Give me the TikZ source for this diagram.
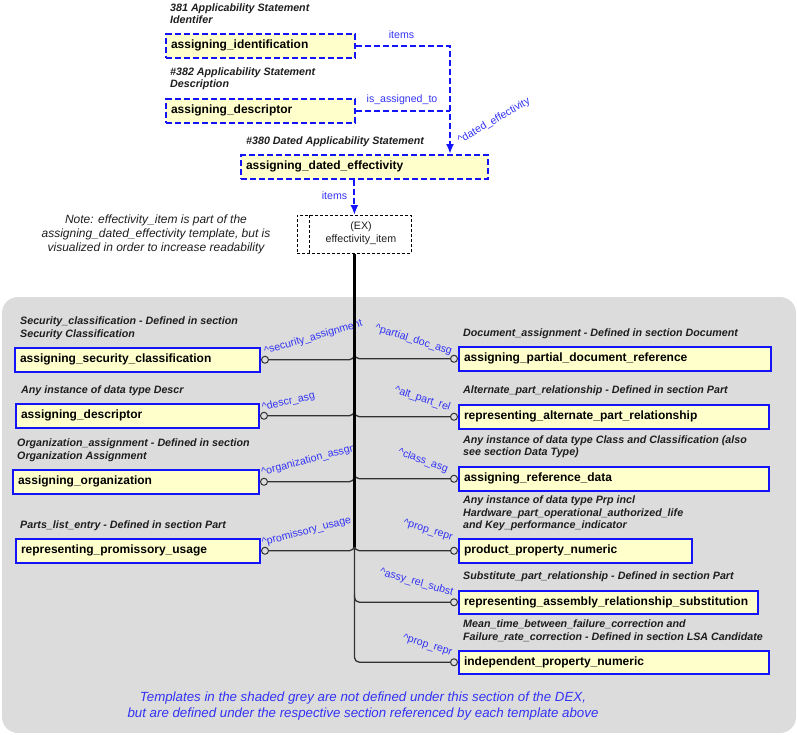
\documentclass[tikz,border=0pt]{standalone}
\usepackage{fontspec}
\setmainfont{Liberation Sans}
\usetikzlibrary{arrows.meta,calc}
\definecolor{yel}{RGB}{255,255,204}
\definecolor{bbd}{RGB}{20,20,250}
\definecolor{btxt}{RGB}{50,50,245}
\definecolor{gbg}{RGB}{220,220,220}
\definecolor{brc}{RGB}{50,50,50}
\definecolor{dtxt}{RGB}{30,30,30}
\begin{document}
\begin{tikzpicture}[x=1pt,y=-1pt,
 ybox/.style={draw=bbd, fill=yel, line width=2pt, inner xsep=5pt, inner ysep=0pt,
   text width=#1, align=left, minimum height=23.5pt, anchor=north west,
   font=\fontsize{12}{14}\selectfont\bfseries, text height=9pt, text depth=3pt},
 dbox/.style={ybox=#1, dash pattern=on 6pt off 3pt},
 desc/.style={font=\fontsize{10.7}{12.7}\selectfont\bfseries\itshape, text=dtxt, align=left, anchor=west, inner sep=0pt},
 role/.style={font=\fontsize{10.6}{12}\selectfont, text=btxt, inner sep=0pt},
 ring/.style={circle, draw=brc, fill=gbg, line width=1pt, inner sep=0pt, minimum size=7pt},
 branch/.style={draw=brc, line width=1.3pt, rounded corners=5pt},
 trunk/.style={draw=black, line width=2.2pt},
 bdash/.style={draw=bbd, line width=2pt, dash pattern=on 6pt off 3pt},
 exline/.style={draw=black, line width=0.8pt, dash pattern=on 3pt off 2pt},
]
\useasboundingbox (0,0) rectangle (797,734);
% grey region
\fill[gbg, rounded corners=16pt] (2,297) rectangle (796,733);

% top boxes
\node[desc] (l381) at (170,13.7) {381 Applicability Statement\\Identifer};
\node[dbox=179pt] (ident) at (165,33) {assigning\_identification};
\node[desc] (l382) at (170,78.7) {\#382 Applicability Statement\\Description};
\node[dbox=179pt] (desc1) at (165,98) {assigning\_descriptor};
\node[desc] (l380) at (246,141.7) {\#380 Dated Applicability Statement};
\node[dbox=237pt] (dated) at (240,154) {assigning\_dated\_effectivity};

% EX box
\node[exline, minimum width=114pt, minimum height=38pt, anchor=north west, inner sep=0pt] (ex) at (297,215) {};
\draw[exline] ($(ex.north west)+(12,0)$) -- ($(ex.south west)+(12,0)$);
\node[font=\fontsize{10.7}{12.7}\selectfont, text=dtxt, align=center, inner sep=0pt] (extext) at (361,233.5) {(EX)\\effectivity\_item};

% top connectors
\coordinate (jx) at (450,154);
\draw[bdash,-{Latex[length=10pt,width=8pt]}] (ident.east) -| (jx);
\draw[bdash] (desc1.east) -- (desc1.east -| jx);
\draw[bdash,-{Latex[length=10pt,width=8pt]}] (dated.south -| ex.north) -- (ex.north);
\node[role] (lit1) at (401.5,35) {items};
\node[role] (lasg) at (402,100) {is\_assigned\_to};
\node[role, rotate=30] (lde) at (494,121) {\textasciicircum dated\_effectivity};
\node[role] (lit2) at (334.5,196) {items};

% note
\node[font=\fontsize{12}{14}\selectfont\itshape, text=dtxt, align=center, inner sep=0pt] (note) at (156,234)
 {Note: effectivity\_item is part of the\\assigning\_dated\_effectivity template, but is\\visualized in order to increase readability};

% left boxes
\node[desc] (d1) at (20,328) {Security\_classification - Defined in section\\Security Classification};
\node[ybox=235pt] (secclass) at (14,347) {assigning\_security\_classification};
\node[desc] (d2) at (21,391) {Any instance of data type Descr};
\node[ybox=233pt] (descr) at (15,403) {assigning\_descriptor};
\node[desc] (d3) at (17,449.9) {Organization\_assignment - Defined in section\\Organization Assignment};
\node[ybox=236pt] (org) at (12,469) {assigning\_organization};
\node[desc] (d4) at (20,526) {Parts\_list\_entry - Defined in section Part};
\node[ybox=234pt] (prom) at (15,538) {representing\_promissory\_usage};

% right boxes
\node[desc] (d5) at (463,333.3) {Document\_assignment - Defined in section Document};
\node[ybox=302pt] (pdr) at (458,346) {assigning\_partial\_document\_reference};
\node[desc] (d6) at (463,390.7) {Alternate\_part\_relationship - Defined in section Part};
\node[ybox=300pt] (apr) at (458,404) {representing\_alternate\_part\_relationship};
\node[desc] (d7) at (463,446.8) {Any instance of data type Class and Classification (also\\see section Data Type)};
\node[ybox=300pt] (rd) at (458,466) {assigning\_reference\_data};
\node[desc] (d8) at (463,513.3) {Any instance of data type Prp incl\\Hardware\_part\_operational\_authorized\_life\\and Key\_performance\_indicator};
\node[ybox=223pt] (ppn) at (458,538) {product\_property\_numeric};
\node[desc] (d9) at (463,576.7) {Substitute\_part\_relationship - Defined in section Part};
\node[ybox=289pt] (ars) at (458,589.5) {representing\_assembly\_relationship\_substitution};
\node[desc] (d10) at (463,630.8) {Mean\_time\_between\_failure\_correction and\\Failure\_rate\_correction - Defined in section LSA Candidate};
\node[ybox=300pt] (ipn) at (458,649.5) {independent\_property\_numeric};

% role labels
\node[role, rotate=16] (rl1) at (313.5,337.5) {\textasciicircum security\_assignment};
\node[role, rotate=13] (rl2) at (288.5,402) {\textasciicircum descr\_asg};
\node[role, rotate=15] (rl3) at (308.5,460.5) {\textasciicircum organization\_assgn};
\node[role, rotate=14.5] (rl4) at (306.5,531.5) {\textasciicircum promissory\_usage};
\node[role, rotate=-17] (rl5) at (413.5,340) {\textasciicircum partial\_doc\_asg};
\node[role, rotate=-18] (rl6) at (422.5,399) {\textasciicircum alt\_part\_rel};
\node[role, rotate=-20] (rl7) at (423,461) {\textasciicircum class\_asg};
\node[role, rotate=-17] (rl8) at (428,530.5) {\textasciicircum prop\_repr};
\node[role, rotate=-16] (rl9) at (416.5,582.5) {\textasciicircum assy\_rel\_subst};
\node[role, rotate=-17] (rl10) at (427.5,645.5) {\textasciicircum prop\_repr};

% rings
\node[ring, anchor=west] (r1) at (secclass.east) {};
\node[ring, anchor=west] (r2) at (descr.east) {};
\node[ring, anchor=west] (r3) at (org.east) {};
\node[ring, anchor=west] (r4) at (prom.east) {};
\node[ring, anchor=east] (r5) at (pdr.west) {};
\node[ring, anchor=east] (r6) at (apr.west) {};
\node[ring, anchor=east] (r7) at (rd.west) {};
\node[ring, anchor=east] (r8) at (ppn.west) {};
\node[ring, anchor=east] (r9) at (ars.west) {};
\node[ring, anchor=east] (r10) at (ipn.west) {};

% branches
\foreach \r in {r1,r2,r3,r4}{
  \draw[branch] (\r.east) -- (\r.east -| ex.south) -- ++(0,-8);
}
\foreach \r in {r5,r6,r7,r8,r9}{
  \draw[branch] ($(\r.west -| ex.south)+(0,-8)$) -- (\r.west -| ex.south) -- (\r.west);
}
\draw[branch] ($(ex.south |- r4.east)+(0,-4)$) -- (ex.south |- r10.west) -- (r10.west);
\draw[trunk] (ex.south) -- ($(ex.south |- r4.east)+(0,-4)$);

% footer
\node[font=\fontsize{13.3}{16.6}\selectfont\itshape, text=btxt, align=center, inner sep=0pt] (foot) at (363,706)
 {Templates in the shaded grey are not defined under this section of the DEX,\\but are defined under the respective section referenced by each template above};
\end{tikzpicture}
\end{document}
